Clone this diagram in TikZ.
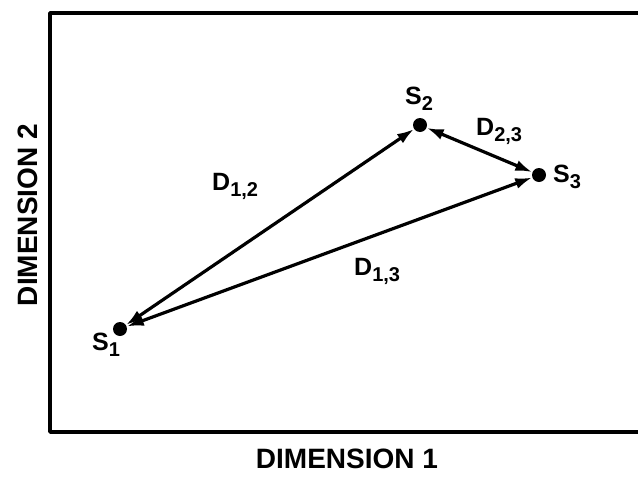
\documentclass[tikz,border=0pt]{standalone}
\usepackage{fontspec}
\setmainfont{Liberation Sans}
\usetikzlibrary{arrows.meta}
\newcommand\sublab[2]{#1\raisebox{-6pt}{\fontsize{20}{20}\selectfont #2}}
\begin{document}
\begin{tikzpicture}[x=1pt,y=-1pt,
  dot/.style={circle,fill=black,inner sep=0pt,minimum size=14pt},
  conn/.style={line width=3.2pt,{Latex[length=17pt,width=11pt]}-{Latex[length=17pt,width=11pt]}},
  lbl/.style={font=\bfseries\fontsize{25}{25}\selectfont,inner sep=0pt,anchor=base west},
  axis/.style={font=\bfseries\fontsize{28}{28}\selectfont,inner sep=0pt,anchor=base},
  frame/.style={line width=3.6pt,line cap=round,line join=round}]
\useasboundingbox (0,0) rectangle (638,477);
\fill[white] (0,0) rectangle (638,477);
\draw[frame] (650,13) -- (50,13) -- (50,432) -- (650,432);
\node[dot] (s1) at (120,329) {};
\node[dot] (s2) at (420,125) {};
\node[dot] (s3) at (539,175) {};
\draw[conn] (s1) -- (s2);
\draw[conn] (s1) -- (s3);
\draw[conn] (s2) -- (s3);
\node[lbl] (l1) at (92,350) {\sublab{S}{1}};
\node[lbl] (l2) at (405,104) {\sublab{S}{2}};
\node[lbl] (l3) at (553,182) {\sublab{S}{3}};
\node[lbl] (d12) at (212,190) {\sublab{D}{1,2}};
\node[lbl] (d23) at (476,135) {\sublab{D}{2,3}};
\node[lbl] (d13) at (354,275) {\sublab{D}{1,3}};
\node[axis] (ax1) at (347,468) {DIMENSION 1};
\node[axis,rotate=90] (ax2) at (37,215) {DIMENSION 2};
\end{tikzpicture}
\end{document}
